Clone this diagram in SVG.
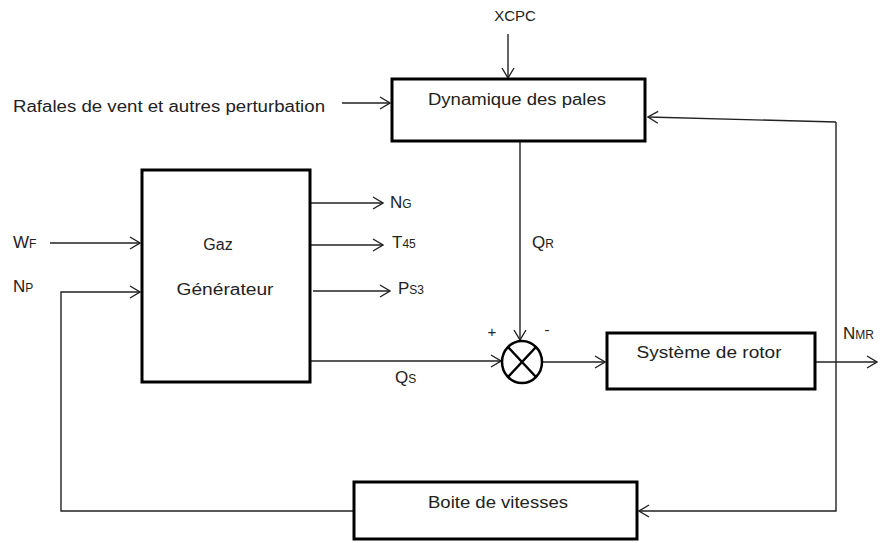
<svg xmlns="http://www.w3.org/2000/svg" width="882" height="543" viewBox="0 0 882 543">
<style>
.box{fill:#fff;stroke:#000;stroke-width:3}
.c{fill:none;stroke:#222;stroke-width:1.4}
.t{font-family:"Liberation Sans",Arial,sans-serif;fill:#222}
.lbl{font-family:"Liberation Sans",Arial,sans-serif;font-size:17px;fill:#222}
.sub{font-size:12px}
</style>
<defs>
<marker id="ah" markerUnits="userSpaceOnUse" viewBox="0 0 12 14" refX="11" refY="7" markerWidth="12" markerHeight="14" orient="auto">
<path d="M1,1 L11,7 L1,13" fill="none" stroke="#222" stroke-width="1.4"/>
</marker>
</defs>
<rect width="882" height="543" fill="#fff"/>
<g id="connectors">
<path class="c" d="M342,103 H390" marker-end="url(#ah)"/>
<path class="c" d="M508,34 V78" marker-end="url(#ah)"/>
<path class="c" d="M836,122 L648,117" marker-end="url(#ah)"/>
<path class="c" d="M836,122 V511 H639" marker-end="url(#ah)"/>
<path class="c" d="M520,141 V340" marker-end="url(#ah)"/>
<path class="c" d="M310,203 H383" marker-end="url(#ah)"/>
<path class="c" d="M305,245 H383" marker-end="url(#ah)"/>
<path class="c" d="M313,291 H390" marker-end="url(#ah)"/>
<path class="c" d="M50,243 H140" marker-end="url(#ah)"/>
<path class="c" d="M354,511 H61 V292 H140" marker-end="url(#ah)"/>
<path class="c" d="M310,361 H501" marker-end="url(#ah)"/>
<path class="c" d="M542,362 H605" marker-end="url(#ah)"/>
<path class="c" d="M815,362 H877" marker-end="url(#ah)"/>
</g>
<g id="inputs">
<text class="t" x="13" y="112" font-size="16" textLength="312" lengthAdjust="spacingAndGlyphs">Rafales de vent et autres perturbation</text>
<text class="t" x="515" y="21" font-size="15" text-anchor="middle">XCPC</text>
<text class="lbl" x="13" y="248">W<tspan class="sub">F</tspan></text>
<text class="lbl" x="13" y="292">N<tspan class="sub">P</tspan></text>
</g>
<g id="dynamique">
<rect class="box" x="392" y="79" width="253" height="62"/>
<text class="t" x="517" y="105" font-size="16" text-anchor="middle" textLength="178" lengthAdjust="spacingAndGlyphs">Dynamique des pales</text>
</g>
<g id="gaz">
<rect class="box" x="142" y="170" width="168" height="212"/>
<text class="t" x="218" y="250" font-size="16" text-anchor="middle">Gaz</text>
<text class="t" x="225" y="295" font-size="16" text-anchor="middle" textLength="97" lengthAdjust="spacingAndGlyphs">Générateur</text>
</g>
<g id="outputs">
<text class="lbl" x="390" y="208">N<tspan class="sub">G</tspan></text>
<text class="lbl" x="392" y="248">T<tspan class="sub">45</tspan></text>
<text class="lbl" x="398" y="294">P<tspan class="sub">S3</tspan></text>
<text class="lbl" x="395" y="383">Q<tspan class="sub">S</tspan></text>
<text class="lbl" x="532" y="248">Q<tspan class="sub">R</tspan></text>
<text class="lbl" x="843" y="339">N<tspan class="sub">MR</tspan></text>
</g>
<g id="sum">
<ellipse cx="522" cy="362" rx="20" ry="21" fill="#fff" stroke="#000" stroke-width="2.5"/>
<path d="M508,347 L536,377 M536,347 L508,377" stroke="#000" stroke-width="2.5"/>
<text class="t" x="492" y="337" font-size="15" text-anchor="middle">+</text>
<text class="t" x="547" y="335" font-size="15" text-anchor="middle">-</text>
</g>
<g id="rotor">
<rect class="box" x="607" y="333" width="208" height="56"/>
<text class="t" x="709" y="358" font-size="16" text-anchor="middle" textLength="145" lengthAdjust="spacingAndGlyphs">Système de rotor</text>
</g>
<g id="boite">
<rect class="box" x="354" y="482" width="283" height="57"/>
<text class="t" x="498" y="508" font-size="16" text-anchor="middle" textLength="140" lengthAdjust="spacingAndGlyphs">Boite de vitesses</text>
</g>
</svg>
